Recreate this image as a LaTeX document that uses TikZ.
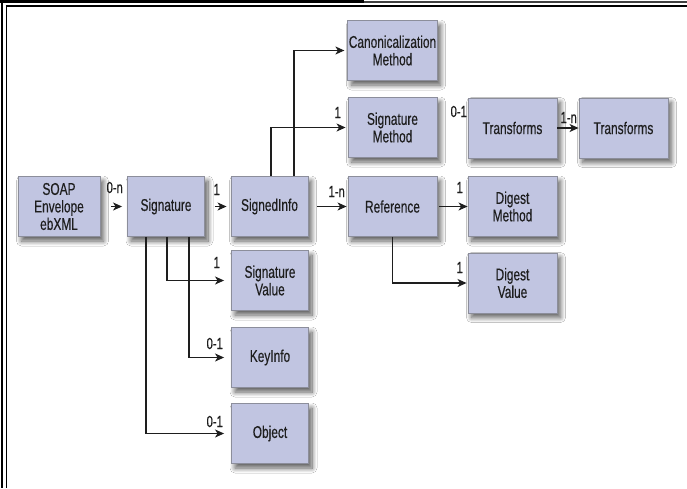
\documentclass[tikz,border=0pt]{standalone}
\usepackage{fontspec}
\setmainfont[FakeStretch=0.7,FakeBold=0.35]{Liberation Sans}
\usetikzlibrary{arrows.meta,calc,shadows.blur}
\definecolor{boxfill}{RGB}{193,197,225}
\definecolor{boxline}{RGB}{140,142,155}
\definecolor{ink}{RGB}{30,30,30}
\begin{document}
\begin{tikzpicture}[x=1pt,y=-1pt,
  elem/.style={draw=boxline, line width=0.9pt, fill=boxfill, minimum height=60pt,
    align=center, inner sep=1pt, font=\fontsize{17}{17.5}\selectfont, text=ink,
    blur shadow={shadow xshift=3.5pt, shadow yshift=-4.5pt, shadow blur steps=10,
      shadow blur radius=5pt, shadow opacity=65}},
  narrow/.style={elem, minimum width=77pt},
  wide/.style={elem, minimum width=89pt},
  link/.style={draw=ink, line width=1.2pt, -{Stealth[length=9pt,width=8pt,inset=2.5pt]}},
  card/.style={font=\fontsize{16}{17}\selectfont, text=ink, inner sep=0pt, anchor=base east}
]
\useasboundingbox (0,0) rectangle (687,488);
\fill[white] (0,0) rectangle (687,488);

% page frame
\fill[black] (0,0) rectangle (364,3.2);
\draw[line width=1.4pt, black!75] (364,2) -- (687,2);
\draw[line width=1.2pt] (5.5,6) -- (687,6);
\draw[line width=1.6pt] (2,0) -- (2,488);
\draw[line width=1.2pt] (6.1,6) -- (6.1,488);

% elements
\node[elem, minimum width=82pt] (soap) at (59,206.5) {SOAP\\Envelope\\ebXML};
\node[narrow] (sig)   at (166,206.5) {Signature};
\node[narrow] (sinfo) at (269.5,206.5) {SignedInfo};
\node[narrow] (sv)    at (270,280.5) {Signature\\Value};
\node[narrow] (ki)    at (270,357.5) {KeyInfo};
\node[narrow] (obj)   at (270,433.5) {Object};
\node[wide] (cm)  at (392.5,50.5)  {Canonicalization\\Method};
\node[wide] (sm)  at (392.5,127.5) {Signature\\Method};
\node[wide] (ref) at (392.5,206.5) {Reference};
\node[wide] (tr1) at (512.5,128)   {Transforms};
\node[wide] (tr2) at (623.5,128)   {Transforms};
\node[wide] (dm)  at (512.5,206.5) {Digest\\Method};
\node[wide] (dv)  at (512.5,283)   {Digest\\Value};

% straight links
\draw[link, shorten <=11pt, shorten >=5pt] (soap.east) -- (sig.west);
\draw[link, shorten <=10pt, shorten >=4pt] (sig.east) -- (sinfo.west);
\draw[link, shorten <=9pt, shorten >=1pt] (sinfo.east) -- (ref.west);
\draw[link, shorten <=2pt] (ref.east) -- (dm.west);
\draw[link] (tr1.east) -- (tr2.west);

% elbow links
\draw[link, shorten >=7pt] ($(sig.south)+(1,0)$) |- (sv.west);
\draw[link, shorten >=7pt] ($(sig.south)+(23,0)$) |- (ki.west);
\draw[link, shorten >=7pt] ($(sig.south)+(-20,0)$) |- (obj.west);
\draw[link, shorten >=3pt] ($(sinfo.north)+(24.5,0)$) |- (cm.west);
\draw[link, shorten >=2pt] ($(sinfo.north)+(1.5,0)$) |- (sm.west);
\draw[link, shorten >=1pt] (ref.south) |- (dv.west);

% cardinalities
\node[card] (c1)  at (123,193) {0-n};
\node[card] (c2)  at (220,195) {1};
\node[card] (c3)  at (345,197) {1-n};
\node[card] (c4)  at (341,118) {1};
\node[card] (c5)  at (467,117) {0-1};
\node[card] (c6)  at (577,123) {1-n};
\node[card] (c7)  at (463,193) {1};
\node[card] (c8)  at (463,273) {1};
\node[card] (c9)  at (220,268) {1};
\node[card] (c10) at (223,349) {0-1};
\node[card] (c11) at (223,427) {0-1};
\end{tikzpicture}
\end{document}
